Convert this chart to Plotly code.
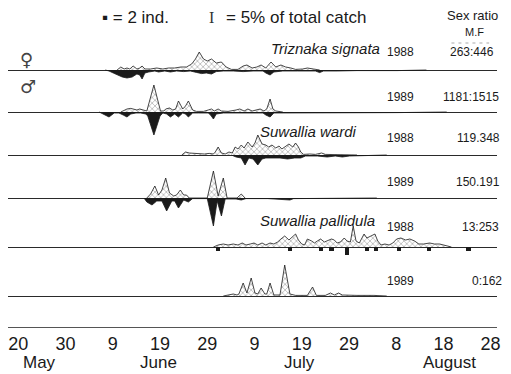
import plotly.graph_objects as go
from datetime import datetime, timedelta

# Days are counted from 20 May; values are % of the season's total catch.
BASE = datetime(1988, 5, 20)

# --- Triznaka signata 1988 ---
tri88_f_day = [20.9, 21.7, 22.4, 23.0, 23.6, 24.3, 25.1, 25.7, 26.2, 26.8, 28.0, 29.3, 30.6, 31.8, 33.1,
               34.4, 35.6, 36.7, 37.5, 38.3, 39.2, 40.0, 40.9, 41.9, 43.0, 44.0, 45.1, 46.5, 47.6, 48.4,
               49.5, 50.5, 51.4, 52.4, 53.5, 54.5, 55.6, 56.6, 57.7, 58.7, 60.2, 61.2, 62.5, 63.8]
tri88_f_pct = [0, 1.5, 0.5, 1, 0.5, 2, 0.5, 1, 2, 0.5, 0.5, 1, 0.5, 1, 1,
               1.5, 1.5, 3, 5.5, 9, 5.5, 4.5, 5.5, 3.5, 4, 1.5, 0.3, 0.3, 2, 2.5,
               1, 1.5, 2.5, 1, 4, 1.5, 2.5, 1.5, 1, 0.3, 0.5, 1, 0.5, 0]
tri88_m_day = [18.4, 19.2, 20.1, 20.9, 22.0, 23.0, 24.1, 25.1, 25.7, 26.2, 26.8, 27.6, 28.9, 29.7, 31.0,
               32.2, 33.5, 35.0, 36.4, 37.7, 38.8, 39.8, 40.9, 41.9, 43.4, 45.5, 47.6, 49.7, 51.8, 52.4,
               53.3, 54.1, 56.0, 59.1, 61.2, 62.9, 63.8, 64.6, 67.5, 71.7, 80.2, 86.4]
tri88_m_pct = [0, 0.5, 1.5, 2.5, 3.5, 4, 3.5, 2, 2.5, 4.5, 1.5, 1, 0.5, 1, 0.5,
               1, 0.5, 0.8, 0.5, 1.2, 1.8, 1.5, 2, 0.8, 0.5, 0.5, 0.8, 0.5, 0.5, 1.5,
               2.5, 1, 0.5, 0.5, 0.3, 0.5, 1.3, 0.5, 0.5, 0.3, 0.3, 0]

# --- Triznaka signata 1989 ---
tri89_f_day = [21.7, 22.4, 23.0, 23.8, 24.5, 25.1, 25.7, 26.4, 27.2, 28.7, 30.1, 30.8, 31.2, 32.0, 32.7,
               33.3, 33.9, 34.8, 35.4, 36.0, 36.9, 37.7, 39.2, 40.2, 40.9, 41.5, 42.3, 43.0, 44.4, 46.1,
               46.9, 47.8, 48.6, 49.5, 50.3, 51.2, 52.0, 52.6, 53.3, 53.9, 54.5, 56.0]
tri89_f_pct = [0, 1, 1.5, 1.8, 1.5, 1, 1.5, 1, 0.5, 13.5, 0.5, 0.5, 1.5, 2, 1,
               1.5, 5.5, 1.5, 3, 5.5, 1, 0.3, 0.3, 1, 1.5, 0.5, 1.5, 0.5, 0.3, 1,
               1.5, 0.5, 1.5, 0.5, 1, 1.5, 0.5, 1.5, 6.5, 1.5, 0.5, 0]
tri89_m_day = [17.1, 17.9, 19.2, 20.3, 21.3, 22.2, 23.0, 23.8, 24.9, 25.9, 27.0, 27.4, 28.7, 30.0, 30.6,
               31.4, 32.2, 33.1, 33.9, 34.8, 35.4, 36.0, 36.9, 38.1, 40.2, 40.7, 41.3, 41.9, 43.4, 46.5,
               48.6, 51.8, 52.4, 53.3, 54.1, 57.0, 65.4, 80.2, 90.7]
tri89_m_pct = [0, 1, 2.5, 0.5, 0.5, 1.5, 2.5, 1, 0.5, 0.5, 1, 2, 11.5, 2, 0.5,
               1, 2.5, 1, 2.5, 0.5, 1, 2.5, 0.5, 0.5, 0.5, 1.5, 3.5, 1, 0.5, 0.5,
               0.5, 0.5, 1.5, 2.5, 0.5, 0.5, 0.3, 0.3, 0]

# --- Suwallia wardi 1988 ---
war88_f_day = [34.6, 35.4, 36.2, 37.1, 38.1, 39.4, 40.4, 41.3, 41.7, 42.3, 43.0, 43.8, 44.6, 45.3, 45.9,
               46.5, 47.2, 47.8, 48.6, 49.5, 50.1, 50.7, 51.6, 52.4, 53.0, 53.7, 54.5, 55.2, 55.8, 56.4,
               57.3, 58.1, 58.7, 59.3, 59.8, 60.4, 61.7, 62.9, 64.2, 65.0, 68.6, 71.7]
war88_f_pct = [0, 1.5, 1, 0.8, 0.8, 0.5, 0.8, 0.5, 1.5, 4, 1, 0.5, 1.5, 1, 4,
               3, 5, 3.5, 6.5, 4, 6, 10, 5.5, 5, 4, 5, 3.5, 4.5, 3, 4,
               5.5, 4, 6, 4, 1.5, 0.3, 0.5, 0.3, 1, 0.3, 0.3, 0]
war88_m_day = [45.1, 46.1, 47.2, 48.0, 48.8, 49.7, 50.7, 51.6, 52.4, 53.9, 55.4, 57.0, 58.5, 59.8, 60.8,
               63.3, 65.4, 67.1, 68.6, 70.1, 73.8, 78.0]
war88_m_pct = [0, 1, 1.5, 5, 1.5, 2, 5, 2, 1.5, 1.5, 1.5, 2, 1.5, 1.5, 0.5,
               0.5, 1, 0.5, 1, 0.5, 0.3, 0]

# --- Suwallia wardi 1989 ---
war89_f_day = [27.2, 28.0, 28.9, 29.7, 30.4, 31.2, 32.0, 32.9, 33.5, 34.3, 35.0, 35.6, 36.2, 40.0, 41.3,
               42.3, 43.4, 44.2, 46.3, 47.2, 48.0]
war89_f_pct = [0, 2, 6, 1.5, 4, 10, 2.5, 1, 1.5, 4, 1.5, 1.5, 0, 0, 13.5,
               1, 10, 0, 0, 2, 0]
war89_m_day = [26.6, 27.2, 28.3, 29.3, 30.4, 31.4, 32.5, 33.1, 33.9, 35.0, 36.0, 36.9, 40.0, 41.3, 42.1,
               43.0, 43.8, 46.1, 47.2, 48.2, 52.8, 57.5, 58.3, 67.5, 75.9]
war89_m_pct = [0, 2, 3.5, 1.5, 1.5, 6.5, 1.5, 1.5, 5, 1, 2, 0.3, 0.3, 14, 1.5,
               9, 0.5, 0.5, 1, 0.3, 0.3, 1, 0.3, 0.3, 0]

# --- Suwallia pallidula 1988 ---
pal88_f_day = [41.3, 42.3, 43.4, 44.4, 45.5, 46.5, 47.4, 48.2, 49.1, 49.9, 50.7, 51.6, 52.4, 53.3, 54.1,
               54.9, 55.6, 56.4, 57.3, 58.1, 58.7, 59.3, 60.0, 60.6, 61.2, 62.1, 62.7, 63.3, 64.0, 64.8,
               65.4, 66.3, 66.9, 67.5, 68.2, 69.0, 69.6, 70.3, 70.9, 71.5, 72.2, 73.2, 73.8, 74.7, 75.5,
               76.1, 76.8, 77.6, 78.5, 79.3, 80.1, 81.0, 82.0, 82.9, 83.9, 84.8, 85.8, 87.1, 88.1, 89.2,
               90.2, 91.7]
pal88_f_pct = [0, 1, 1.5, 1, 1.5, 1, 2, 1, 1.5, 2, 1, 2, 1, 2, 1.5,
               2.5, 4, 5.5, 3.5, 5, 6.5, 3.5, 1.5, 1, 4, 3, 2, 3, 4, 2.5,
               3, 4, 3.5, 2, 2.5, 4.5, 3, 2.5, 10.5, 3, 2, 6.5, 4.5, 5.5, 6.5,
               3, 1, 1.5, 1, 2, 4, 4.5, 3.5, 4, 3, 1.5, 1.5, 2, 1.5, 1.5,
               1, 0]
# males are few: counted as individuals, one square per 2 ind.
pal88_m_day = [42.3, 57.5, 64.0, 66.3, 69.6, 73.8, 75.7, 80.6, 86.9, 95.3]
pal88_m_ind = [2, 2, 2, 2, 4, 2, 2, 2, 2, 2]

# --- Suwallia pallidula 1989 (no males) ---
pal89_f_day = [43.4, 44.4, 45.5, 46.3, 46.7, 47.6, 48.4, 49.3, 50.1, 50.7, 51.4, 52.2, 52.6, 53.3, 54.1,
               55.4, 56.4, 57.5, 58.7, 61.2, 62.3, 63.1, 65.0, 66.1, 66.9, 67.8, 68.6, 71.7, 73.8, 75.3,
               78.0]
pal89_f_pct = [0, 0.5, 1, 0.5, 1, 6.5, 1.5, 9, 1.5, 1, 4, 1, 1, 6.5, 0.5,
               0.5, 15.5, 1, 0.3, 0.3, 4.5, 0.3, 0.3, 1.5, 0.5, 1.5, 0.5, 0.3, 0.5, 0.3,
               0]

years = ["1988", "1989", "1988", "1989", "1988", "1989"]
ratios = ["263:446", "1181:1515", "119.348", "150.191", "13:253", "0:162"]
species = ["Triznaka signata", "Suwallia wardi", "Suwallia pallidula"]
tick_text = ["20", "30", "9", "19", "29", "9", "19", "29", "8", "18", "28"]
months = ["May", "June", "July", "August"]
month_day = [4.5, 29.7, 59.6, 91.3]

rows = [
    (tri88_f_day, tri88_f_pct, tri88_m_day, tri88_m_pct),
    (tri89_f_day, tri89_f_pct, tri89_m_day, tri89_m_pct),
    (war88_f_day, war88_f_pct, war88_m_day, war88_m_pct),
    (war89_f_day, war89_f_pct, war89_m_day, war89_m_pct),
    (pal88_f_day, pal88_f_pct, [], []),
    (pal89_f_day, pal89_f_pct, [], []),
]

W, H = 511, 374
baseline_px = [70, 112, 155, 198, 247, 296]
half_px = 40          # half height of each strip
half_pct = 20         # 2 px per percent
IND_PER_SQUARE = 2
SQUARE_PCT = 1.9      # drawn height of one square


def dates(days):
    return [BASE + timedelta(days=d) for d in days]


def px(x):
    return x / W


def py(y):
    return 1 - y / H


FONT = "Liberation Sans, Arial, sans-serif"
INK = "#1a1a1a"

fig = go.Figure()
layout_axes = {}
for i, (fd, fv, md, mv) in enumerate(rows):
    yname = "y" if i == 0 else f"y{i + 1}"
    fig.add_trace(go.Scatter(
        x=dates(fd), y=fv, xaxis="x", yaxis=yname, mode="lines",
        line=dict(color=INK, width=0.8), fill="tozeroy",
        fillpattern=dict(shape="x", size=4, solidity=0.28, fgcolor="#3a3a3a", bgcolor="white"),
        showlegend=False, hoverinfo="skip"))
    if md:
        fig.add_trace(go.Scatter(
            x=dates(md), y=[-v for v in mv], xaxis="x", yaxis=yname, mode="lines",
            line=dict(color=INK, width=0.8), fill="tozeroy", fillcolor=INK,
            showlegend=False, hoverinfo="skip"))
    b = baseline_px[i]
    layout_axes["yaxis" if i == 0 else f"yaxis{i + 1}"] = dict(
        domain=[py(b + half_px), py(b - half_px)], range=[-half_pct, half_pct],
        anchor="x", showticklabels=False, showgrid=False, ticks="",
        zeroline=True, zerolinecolor="#2a2a2a", zerolinewidth=1, fixedrange=True)

# male squares for S. pallidula 1988
fig.add_trace(go.Bar(
    x=dates(pal88_m_day), y=[-(n / IND_PER_SQUARE) * SQUARE_PCT for n in pal88_m_ind],
    xaxis="x", yaxis="y5", width=0.9 * 86400000, marker=dict(color=INK, line=dict(width=0)),
    showlegend=False, hoverinfo="skip"))

x0_px, x1_px = 8, 501
day_at = lambda p: (p - 18.5) / 4.76
fig.update_layout(
    width=W, height=H, margin=dict(l=0, r=0, t=0, b=0),
    paper_bgcolor="white", plot_bgcolor="rgba(0,0,0,0)",
    bargap=0,
    xaxis=dict(
        domain=[px(x0_px), px(x1_px)], anchor="free", position=py(327),
        type="date",
        range=[BASE + timedelta(days=day_at(x0_px)), BASE + timedelta(days=day_at(x1_px))],
        tickvals=[BASE + timedelta(days=10 * k) for k in range(len(tick_text))],
        ticktext=tick_text, tickfont=dict(family=FONT, size=18, color=INK),
        ticks="", showgrid=False, zeroline=False,
        showline=True, linecolor="#555", linewidth=1, fixedrange=True),
    **layout_axes,
)

ann = []


def text(s, x, y, size, anchor="center", color=INK, family=FONT, italic=False):
    if italic:
        s = f"<i>{s}</i>"
    ann.append(dict(text=s, x=px(x), y=py(y), xref="paper", yref="paper",
                    xanchor=anchor, yanchor="middle", showarrow=False,
                    font=dict(family=family, size=size, color=color)))


# key
text("▪ = 2 ind.", 101, 18, 17, anchor="left")
text("I", 213, 18, 16, family="Liberation Serif, serif", color="#333")
text("= 5% of total catch", 226, 18, 17, anchor="left")
text("Sex ratio", 476, 15, 13)
text("M.F", 478, 32, 11)
fig.add_shape(type="line", xref="paper", yref="paper", x0=px(455), x1=px(493), y0=py(43), y1=py(43),
              line=dict(color="#aaa", width=1, dash="3px,4px"))

# sex symbols
text("♀", 27, 60, 18, color="#444", family="DejaVu Sans")
text("♂", 28, 86, 18, color="#444", family="DejaVu Sans")

# species names
text(species[0], 328, 49, 15, italic=True)
text(species[1], 311, 131, 15, italic=True)
text(species[2], 320, 220, 15, italic=True)

# years and sex ratios
year_y = [52, 97, 138, 182, 227, 281]
ratio_x = [476, 475, 482, 482, 484, 491]
for i in range(6):
    text(years[i], 404, year_y[i], 12)
    text(ratios[i], ratio_x[i], year_y[i], 12)

# months below the day ticks
for m, d in zip(months, month_day):
    ann.append(dict(text=m, x=BASE + timedelta(days=d), y=py(362), xref="x", yref="paper",
                    xanchor="center", yanchor="middle", showarrow=False,
                    font=dict(family=FONT, size=17, color=INK)))

fig.update_layout(annotations=ann)
fig.write_html("out.html")
